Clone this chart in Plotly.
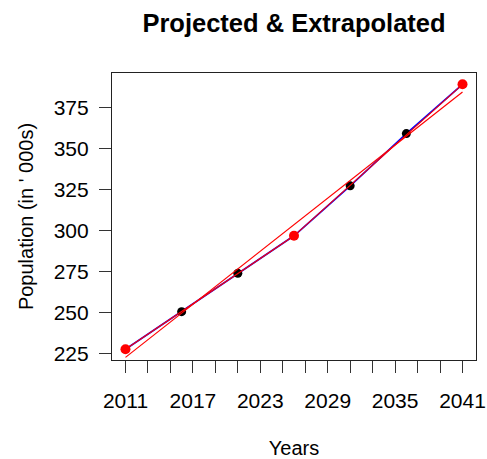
import plotly.graph_objects as go

# Data
line_years = [2011, 2016, 2021, 2026, 2031, 2036, 2041]
line_vals = [227.5, 250.4, 273.8, 296.7, 327.2, 359.1, 389.2]

proj_years = [2016, 2021, 2031, 2036]
proj_vals = [250.4, 273.8, 327.2, 359.1]

anchor_years = [2011, 2026, 2041]
anchor_vals = [227.5, 296.7, 389.2]

fit_years = [2011, 2041]
fit_vals = [222.5, 384.5]

x_tick_vals = list(range(2011, 2042, 2))
x_tick_labels = [str(v) if (v - 2011) % 6 == 0 else "" for v in x_tick_vals]
y_tick_vals = [225, 250, 275, 300, 325, 350, 375]

FONT = "Liberation Sans, Arial, sans-serif"

fig = go.Figure()
fig.add_trace(go.Scatter(x=line_years, y=line_vals, mode="lines",
                         line=dict(color="blue", width=1.7), showlegend=False))
fig.add_trace(go.Scatter(x=proj_years, y=proj_vals, mode="markers",
                         marker=dict(color="black", size=9), showlegend=False))
fig.add_trace(go.Scatter(x=fit_years, y=fit_vals, mode="lines",
                         line=dict(color="red", width=1.2), showlegend=False))
fig.add_trace(go.Scatter(x=anchor_years, y=anchor_vals, mode="lines+markers",
                         line=dict(color="red", width=1.1),
                         marker=dict(color="red", size=10), showlegend=False))

axis_common = dict(showgrid=False, zeroline=False, showline=True, mirror=True,
                   linecolor="#222222", linewidth=1.2, ticks="outside", ticklen=12,
                   tickcolor="#333333", tickwidth=1.2, automargin=False,
                   tickfont=dict(family=FONT, size=21, color="black"))

fig.update_layout(
    width=487, height=459,
    margin=dict(l=112, r=11, t=73, b=99),
    paper_bgcolor="white", plot_bgcolor="white",
    font=dict(family=FONT, color="black"),
    title=dict(text="<b>Projected & Extrapolated</b>", x=0.5, xref="paper",
               y=1 - 23 / 459, yref="container", yanchor="middle", xanchor="center",
               font=dict(family=FONT, size=25.5, color="black")),
    xaxis=dict(range=[2009.8, 2042.2], tickmode="array", tickvals=x_tick_vals,
               ticktext=x_tick_labels, ticklabelstandoff=10,
               title=dict(text="Years", font=dict(family=FONT, size=20), standoff=34),
               **axis_common),
    yaxis=dict(range=[220.9, 396.1], tickmode="array", tickvals=y_tick_vals,
               ticklabelstandoff=6,
               title=dict(text="Population (in ' 000s)", font=dict(family=FONT, size=20), standoff=14),
               **axis_common),
)

fig.write_html("out.html")
